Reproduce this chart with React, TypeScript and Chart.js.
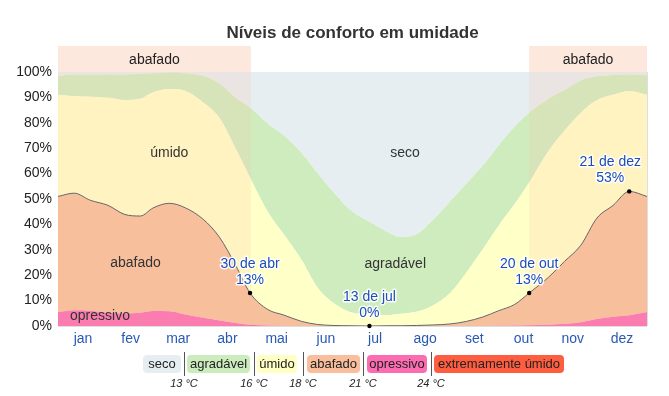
import React, { useEffect, useRef } from "react";
import { Chart, registerables } from "chart.js";
Chart.register(...registerables);

const FONT = '"Liberation Sans", Arial, sans-serif';

const monthLabels = ["jan", "fev", "mar", "abr", "mai", "jun", "jul", "ago", "set", "out", "nov", "dez"];
const monthStarts = [0, 31, 59, 90, 120, 151, 181, 212, 243, 273, 304, 334, 365];
const extraGridDays = [154];
const yTicks = [0, 10, 20, 30, 40, 50, 60, 70, 80, 90, 100];

// day of year of each sample
const days = [0, 10, 20, 31, 41, 51, 59, 69, 79, 90, 100, 110, 119, 130, 140, 151, 161, 171, 181, 193, 204, 212, 222, 232, 243, 253, 263, 273, 283, 292, 304, 314, 324, 334, 344, 354, 365];
// upper boundary (cumulative %) of each comfort band
const topOpressivo = [5.5, 6.2, 6.0, 5.2, 4.9, 5.2, 5.9, 5.8, 4.5, 3.2, 2.2, 1.2, 0.5, 0.2, 0.1, 0, 0, 0, 0, 0, 0, 0, 0, 0, 0, 0, 0, 0.1, 0.2, 0.3, 0.5, 0.9, 1.5, 2.8, 3.6, 4.2, 5.5];
const topAbafado = [51, 52.3, 49.5, 47.5, 44, 43.3, 46.5, 48.3, 46.5, 42, 35, 24, 13, 6.5, 4.3, 1.8, 0.6, 0.2, 0.1, 0, 0.1, 0.1, 0.2, 0.4, 0.8, 1.8, 3.5, 6, 8.5, 13, 19.2, 25.5, 31.8, 42.5, 47.5, 53, 51];
const topUmido = [91, 90.5, 90.3, 90, 89, 89.5, 92, 93.3, 92.5, 88, 82, 70, 58.5, 45, 36, 26, 15, 9, 5.5, 4.5, 4.3, 4.8, 5.6, 8, 13, 21, 30, 39.5, 48, 56.5, 69, 77, 84, 89, 91, 92.5, 91];
const topAgradavel = [98.4, 99, 99, 99, 99, 99.3, 99.5, 99.7, 99.5, 98.4, 95.5, 90, 86, 79.6, 75, 68, 60, 52.5, 45.7, 41, 37, 35, 36, 41.5, 49, 56, 63, 71, 78.5, 84, 89.5, 93, 96.7, 98.3, 98.8, 99, 98.8];

const abafadoBandStart = [0, 292];
const abafadoBandEnd = [119.5, 365];

const annDays = [119, 193, 292, 354];
const annValues = [13, 0, 13, 53];
const annDates = ["30 de abr", "13 de jul", "20 de out", "21 de dez"];

const regionNames = ["úmido", "seco", "abafado", "agradável", "opressivo"];
const regionDays = [69, 215, 48, 209, 26];
const regionPcts = [68, 68, 24.8, 24.4, 4];

const legendNames = ["seco", "agradável", "úmido", "abafado", "opressivo", "extremamente úmido"];
const legendColors = ["#e6eef2", "#cdecbe", "#ffffc4", "#f9bf9c", "#fb6cb0", "#fe5e3f"];
const legendLefts = [143, 187, 257, 307, 367, 434];
const legendWidths = [38, 63, 40, 53, 60, 130];
const legendTemps = ["13 °C", "16 °C", "18 °C", "21 °C", "24 °C"];
const dividerXs = [184, 254, 303, 363, 431];

const COL_SECO = "rgb(230,238,242)";
const COL_AGRAD = "rgb(207,236,190)";
const COL_UMIDO = "rgb(255,255,200)";
const COL_ABAF = "rgb(247,192,157)";
const COL_OPRES = "rgb(250,110,178)";
const TINT = "rgba(255,190,160,0.18)";
const BAND = "rgb(253,232,221)";

const pts = (arr: number[]) => days.map((d, i) => ({ x: d, y: arr[i] }));

export default function App() {
  const ref = useRef<HTMLCanvasElement>(null);
  useEffect(() => {
    const canvas = ref.current;
    if (!canvas) return;

    const decor = {
      id: "decor",
      beforeDatasetsDraw(chart: any) {
        const { ctx, chartArea: a, scales } = chart;
        ctx.save();
        ctx.fillStyle = TINT;
        for (let i = 0; i < abafadoBandStart.length; i++) {
          const x0 = scales.x.getPixelForValue(abafadoBandStart[i]);
          const x1 = scales.x.getPixelForValue(abafadoBandEnd[i]);
          ctx.fillRect(x0, a.top, x1 - x0, a.bottom - a.top);
        }
        ctx.restore();
      },
      afterDraw(chart: any) {
        const { ctx, chartArea: a, scales } = chart;
        const xs = scales.x, ys = scales.y;
        ctx.save();
        // title
        ctx.fillStyle = "#333";
        ctx.font = `bold 17px ${FONT}`;
        ctx.textAlign = "center";
        ctx.textBaseline = "middle";
        ctx.fillText("Níveis de conforto em umidade", (a.left + a.right) / 2, 33);
        // top bands
        for (let i = 0; i < abafadoBandStart.length; i++) {
          const x0 = xs.getPixelForValue(abafadoBandStart[i]);
          const x1 = xs.getPixelForValue(abafadoBandEnd[i]);
          ctx.fillStyle = BAND;
          ctx.fillRect(x0, a.top - 26, x1 - x0, 26);
          ctx.fillStyle = "#222";
          ctx.font = `14px ${FONT}`;
          ctx.fillText("abafado", (x0 + x1) / 2, a.top - 12);
        }
        // region labels
        ctx.fillStyle = "#333";
        ctx.font = `14px ${FONT}`;
        for (let i = 0; i < regionNames.length; i++) {
          ctx.fillText(regionNames[i], xs.getPixelForValue(regionDays[i]), ys.getPixelForValue(regionPcts[i]));
        }
        // annotations
        for (let i = 0; i < annDays.length; i++) {
          const px = xs.getPixelForValue(annDays[i]);
          const py = ys.getPixelForValue(annValues[i]);
          ctx.font = `14px ${FONT}`;
          const l1 = annDates[i];
          const l2 = annValues[i] + "%";
          const w = Math.max(ctx.measureText(l1).width, ctx.measureText(l2).width);
          let cx = px;
          if (cx + w / 2 > a.right - 6) cx = a.right - 6 - w / 2;
          if (cx - w / 2 < a.left + 6) cx = a.left + 6 + w / 2;
          ctx.lineJoin = "round";
          ctx.lineWidth = 3;
          ctx.strokeStyle = "rgba(255,255,255,0.9)";
          ctx.strokeText(l1, cx, py - 29);
          ctx.strokeText(l2, cx, py - 13);
          ctx.fillStyle = "rgb(28,78,185)";
          ctx.fillText(l1, cx, py - 29);
          ctx.fillText(l2, cx, py - 13);
          ctx.beginPath();
          ctx.arc(px, py, 2.2, 0, Math.PI * 2);
          ctx.fillStyle = "#000";
          ctx.fill();
        }
        ctx.restore();
      },
    };

    const chart = new Chart(canvas, {
      type: "line",
      data: {
        datasets: [
          { data: pts(topOpressivo), backgroundColor: COL_OPRES, fill: "origin", borderWidth: 0 },
          { data: pts(topAbafado), backgroundColor: COL_ABAF, fill: "-1", borderWidth: 1, borderColor: "#666" },
          { data: pts(topUmido), backgroundColor: COL_UMIDO, fill: "-1", borderWidth: 0 },
          { data: pts(topAgradavel), backgroundColor: COL_AGRAD, fill: "-1", borderWidth: 0 },
          { data: pts(topAgradavel), backgroundColor: COL_SECO, fill: "end", borderWidth: 0 },
        ] as any,
      },
      options: {
        animation: false,
        responsive: false,
        events: [],
        elements: { point: { radius: 0 }, line: { cubicInterpolationMode: "monotone" } },
        layout: { padding: { top: 72, right: 22, bottom: 44, left: 0 } },
        plugins: {
          legend: { display: false },
          tooltip: { enabled: false },
          title: { display: false },
          filler: { drawTime: "beforeDatasetsDraw" },
        } as any,
        scales: {
          x: {
            type: "linear",
            min: 0,
            max: 365,
            z: 1,
            position: "bottom",
            border: { display: false },
            grid: { color: "rgba(0,0,0,0.13)", drawTicks: false },
            ticks: { display: false },
            afterBuildTicks: (s: any) => {
              s.ticks = monthStarts.concat(extraGridDays).map((v) => ({ value: v }));
            },
            afterFit: (s: any) => {
              s.height = 0;
            },
          },
          x2: {
            type: "linear",
            min: 0,
            max: 365,
            position: "bottom",
            border: { display: false },
            grid: { display: false, drawTicks: false },
            ticks: {
              autoSkip: false,
              maxRotation: 0,
              padding: 5,
              color: "rgb(40,90,180)",
              font: { family: FONT, size: 14 },
              callback: (_v: any, i: number) => monthLabels[i],
            },
            afterBuildTicks: (s: any) => {
              s.ticks = monthLabels.map((_, i) => ({ value: (monthStarts[i] + monthStarts[i + 1]) / 2 }));
            },
            afterFit: (s: any) => {
              s.height = 26;
            },
          },
          y: {
            type: "linear",
            min: 0,
            max: 100,
            z: 1,
            border: { display: false },
            grid: { color: "rgba(0,0,0,0.13)", drawTicks: false },
            ticks: {
              padding: 6,
              color: "#222",
              font: { family: FONT, size: 14 },
              callback: (v: any) => v + "%",
            },
            afterBuildTicks: (s: any) => {
              s.ticks = yTicks.map((v) => ({ value: v }));
            },
            afterFit: (s: any) => {
              s.width = 58;
            },
          },
        } as any,
      },
      plugins: [decor],
    });
    return () => chart.destroy();
  }, []);

  return (
    <div style={{ position: "absolute", left: 0, top: 0, width: 669, height: 396, background: "#fff", overflow: "hidden" }}>
      <canvas ref={ref} width={669} height={396} style={{ position: "absolute", left: 0, top: 0, width: 669, height: 396 }} />
      {legendNames.map((n, i) => (
        <div
          key={n}
          style={{
            position: "absolute",
            left: legendLefts[i],
            top: 355,
            width: legendWidths[i],
            height: 18,
            lineHeight: "18px",
            background: legendColors[i],
            borderRadius: 4,
            fontFamily: FONT,
            fontSize: 13,
            color: "#222",
            textAlign: "center",
            whiteSpace: "nowrap",
          }}
        >
          {n}
        </div>
      ))}
      {dividerXs.map((x, i) => (
        <div key={"d" + i} style={{ position: "absolute", left: x, top: 352, width: 1, height: 24, background: "#555" }} />
      ))}
      {legendTemps.map((t, i) => (
        <div
          key={"t" + i}
          style={{
            position: "absolute",
            left: dividerXs[i] - 25,
            top: 376,
            width: 50,
            textAlign: "center",
            fontFamily: FONT,
            fontStyle: "italic",
            fontSize: 11,
            lineHeight: "14px",
            color: "#222",
            whiteSpace: "nowrap",
          }}
        >
          {t}
        </div>
      ))}
    </div>
  );
}
